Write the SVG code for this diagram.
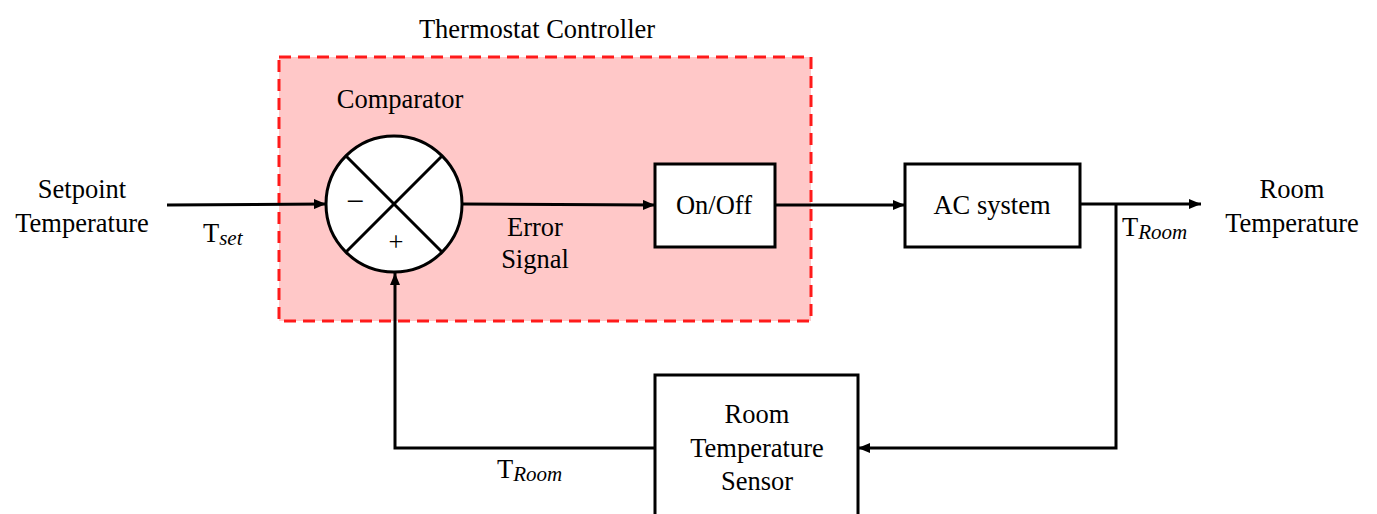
<svg xmlns="http://www.w3.org/2000/svg" width="1377" height="514" viewBox="0 0 1377 514">
<defs>
<marker id="arr" markerWidth="12" markerHeight="10" refX="12" refY="5" orient="auto" markerUnits="userSpaceOnUse">
<path d="M0,0 L12,5 L0,10 Z" fill="#000"/>
</marker>
<style>
.t{font-family:"Liberation Serif","Times New Roman",serif;font-size:26.5px;fill:#000;text-anchor:middle}
.ts{font-family:"Liberation Serif","Times New Roman",serif;font-size:26.5px;fill:#000}
.sub{font-family:"Liberation Serif","Times New Roman",serif;font-style:italic;font-size:21px}
.box{fill:#fff;stroke:#000;stroke-width:3}
.ln{fill:none;stroke:#000;stroke-width:3}
</style>
</defs>
<rect width="1377" height="514" fill="#fff"/>
<g id="thermostat-controller">
<rect x="279" y="57" width="532" height="264" fill="#FFC8C8" stroke="#FF1A1A" stroke-width="3" stroke-dasharray="12,7"/>
<text class="t" x="537" y="38">Thermostat Controller</text>
</g>
<g id="connectors">
<line class="ln" x1="167" y1="205" x2="326" y2="204" marker-end="url(#arr)"/>
<line class="ln" x1="463" y1="204" x2="655" y2="205" marker-end="url(#arr)"/>
<line class="ln" x1="775" y1="205" x2="905" y2="205" marker-end="url(#arr)"/>
<line class="ln" x1="1080" y1="204" x2="1201" y2="204" marker-end="url(#arr)"/>
<polyline class="ln" points="1116,204 1116,448 858,448" marker-end="url(#arr)"/>
<polyline class="ln" points="655,448 395,448 395,273" marker-end="url(#arr)"/>
</g>
<g id="comparator">
<circle cx="394" cy="204" r="68" fill="#fff" stroke="#000" stroke-width="3"/>
<line class="ln" x1="346" y1="156" x2="442" y2="252"/>
<line class="ln" x1="442" y1="156" x2="346" y2="252"/>
<text class="t" x="400" y="108">Comparator</text>
<text class="t" x="355" y="212" style="font-size:32px">−</text>
<text class="t" x="396" y="251">+</text>
</g>
<g id="onoff">
<rect class="box" x="655" y="164" width="120" height="83"/>
<text class="t" x="714" y="214">On/Off</text>
</g>
<g id="ac-system">
<rect class="box" x="905" y="164" width="175" height="83"/>
<text class="t" x="992" y="214">AC system</text>
</g>
<g id="sensor">
<rect class="box" x="655" y="375" width="203" height="150"/>
<text class="t" x="757" y="423">Room</text>
<text class="t" x="757" y="457">Temperature</text>
<text class="t" x="757" y="490">Sensor</text>
</g>
<g id="labels">
<text class="t" x="82" y="198">Setpoint</text>
<text class="t" x="82" y="232">Temperature</text>
<text class="ts" x="203" y="242">T<tspan class="sub" dy="3">set</tspan></text>
<text class="t" x="535" y="236">Error</text>
<text class="t" x="535" y="268">Signal</text>
<text class="ts" x="1122" y="236">T<tspan class="sub" dy="3">Room</tspan></text>
<text class="t" x="1292" y="198">Room</text>
<text class="t" x="1292" y="232">Temperature</text>
<text class="ts" x="497" y="478">T<tspan class="sub" dy="3">Room</tspan></text>
</g>
</svg>
